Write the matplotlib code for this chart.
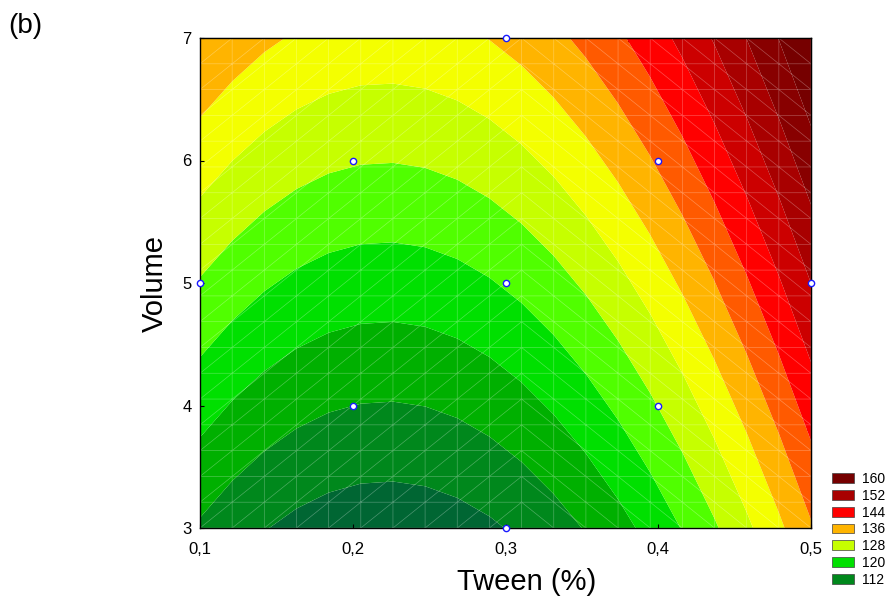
import numpy as np
import matplotlib
matplotlib.use("Agg")
import matplotlib.pyplot as plt
import matplotlib.tri as mtri
from matplotlib.patches import Patch

plt.rcParams["font.family"] = ["Liberation Sans", "DejaVu Sans"]

tween = [0.1, 0.2, 0.2, 0.3, 0.3, 0.3, 0.4, 0.4, 0.5]
volume = [5, 4, 6, 3, 5, 7, 4, 6, 5]
response = [123.7, 112.0, 124.3, 108.0, 120.3, 132.7, 124.1, 136.5, 148.0]

# band edges and colours (bottom band up)
band_edges = [108, 112, 116, 120, 124, 128, 132, 136, 140, 144, 148, 152, 156]
band_colors = ["#006633", "#00881c", "#00b000", "#00e000", "#50ff00", "#c6ff00",
               "#f4ff00", "#ffb400", "#ff5a00", "#ff0000", "#cc0000", "#a80000",
               "#880000", "#760000"]
legend_levels = [160, 152, 144, 136, 128, 120, 112]

xticks = [0.1, 0.2, 0.3, 0.4, 0.5]
xticklabels = ["0,1", "0,2", "0,3", "0,4", "0,5"]
yticks = [3, 4, 5, 6, 7]

# quadratic response surface fitted to the design points
tx = np.array(tween); vy = np.array(volume); z = np.array(response)

def terms(x, y):
    uu = (np.asarray(x) - 0.3) / 0.1
    vv = np.asarray(y) - 5.0
    return np.stack([np.ones_like(uu), uu, vv, uu * uu, vv * vv, uu * vv], axis=-1)

coef, *_ = np.linalg.lstsq(terms(tx, vy), z, rcond=None)

# 20 x 20 mesh, split into triangles like the original renderer
n = 20
gx = np.linspace(0.1, 0.5, n)
gy = np.linspace(3, 7, n)
X, Y = np.meshgrid(gx, gy)
Z = terms(X, Y) @ coef
tris = []
for j in range(n - 1):
    for i in range(n - 1):
        a = j * n + i; b = a + 1; c = a + n; d = c + 1
        if i < 10:
            tris += [[a, b, d], [a, d, c]]
        else:
            tris += [[a, b, c], [b, d, c]]
tri = mtri.Triangulation(X.ravel(), Y.ravel(), np.array(tris))

W, H = 891, 597
fig = plt.figure(figsize=(W / 100, H / 100), dpi=100)
ax = fig.add_axes([200 / W, 69 / H, 611 / W, 490 / H])

levels = [min(Z.min(), band_edges[0]) - 1] + band_edges + [max(Z.max(), band_edges[-1]) + 1]
ax.tricontourf(tri, Z.ravel(), levels=levels, colors=band_colors, antialiased=True)
ax.triplot(tri, color="white", lw=0.5, alpha=0.3)

ax.plot(tween, volume, "o", ms=4.5, mfc="white", mec="#1a1aff", mew=1.0,
        clip_on=False, zorder=5)

ax.set_xlim(0.1, 0.5)
ax.set_ylim(3, 7)
ax.set_xticks(xticks)
ax.set_xticklabels(xticklabels)
ax.set_yticks(yticks)
ax.tick_params(direction="in", length=3, width=0.8, labelsize=12)
ax.tick_params(axis="x", pad=10)
ax.tick_params(axis="y", pad=6)
for s in ax.spines.values():
    s.set_linewidth(1.0)

top = ax.secondary_xaxis("top")
top.set_xticks(np.arange(0.14, 0.49, 0.04))
top.tick_params(direction="in", length=3, width=0.8, labeltop=False)
right = ax.secondary_yaxis("right")
right.set_yticks(np.arange(3.4, 6.7, 0.4))
right.tick_params(direction="in", length=3, width=0.8, labelright=False)

# axis titles and panel tag placed in pixels
fig.text(527 / W, 1 - 582 / H, "Tween (%)", fontsize=21, ha="center", va="center")
fig.text(155 / W, 1 - 283 / H, "Volume", fontsize=21, rotation=90,
         ha="center", va="center")
fig.text(25 / W, 1 - 26 / H, "(b)", fontsize=20, ha="center", va="center")

handles = [Patch(facecolor=band_colors[(lv - 108) // 4], edgecolor="#404040", lw=0.5)
           for lv in legend_levels]
fig.legend(handles, [str(lv) for lv in legend_levels], loc="upper left",
           bbox_to_anchor=(832 / W, 1 - 472 / H), frameon=False,
           fontsize=10, handlelength=1.6, handleheight=0.7, labelspacing=0.2,
           handletextpad=0.55, borderpad=0, borderaxespad=0)

fig.savefig("out.png", dpi=100)
